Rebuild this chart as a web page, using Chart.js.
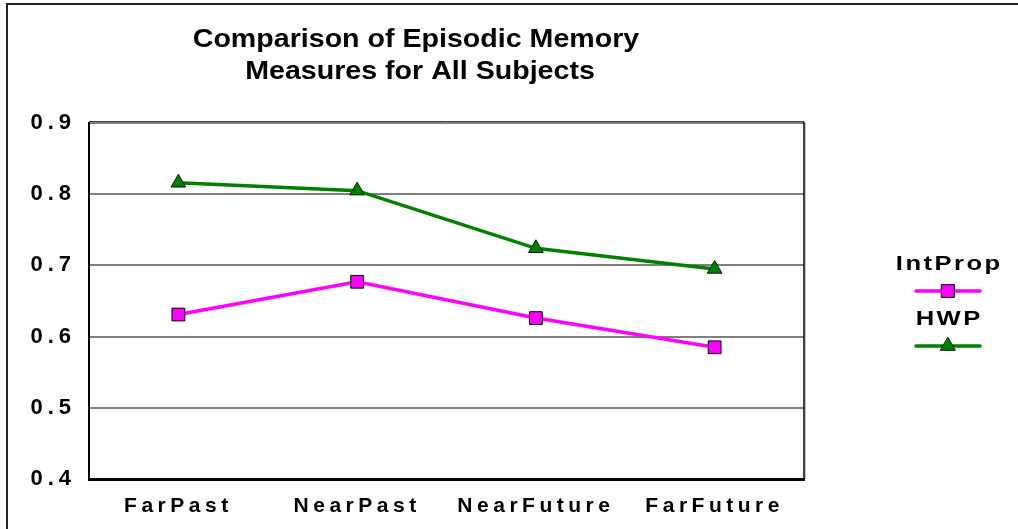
<!DOCTYPE html>
<html>
<head>
<meta charset="utf-8">
<script src="https://cdn.jsdelivr.net/npm/chart.js@4.4.1/dist/chart.umd.min.js"></script>
<style>
  html, body { margin: 0; padding: 0; background: #ffffff; }
  #wrap { position: relative; width: 1018px; height: 529px; }
</style>
</head>
<body>
<div id="wrap"><canvas id="c" width="1018" height="529"></canvas></div>
<script>
// ---- data ----
const titleLines = ['Comparison of Episodic Memory', 'Measures for All Subjects'];
const categories = ['FarPast', 'NearPast', 'NearFuture', 'FarFuture'];
const intPropValues = [0.631, 0.677, 0.626, 0.585];
const hwpValues = [0.816, 0.805, 0.724, 0.695];
const yTickLabels = ['0.4', '0.5', '0.6', '0.7', '0.8', '0.9'];
const seriesNames = ['IntProp', 'HWP'];

// letter-spaced tick labels
function wrapLabels(proto) {
  const orig = proto.drawLabels;
  proto.drawLabels = function (area) {
    const ctx = this.ctx;
    ctx.save();
    const ls = this.options.ticks.spacingPx || 0;
    ctx.letterSpacing = ls + 'px';
    orig.call(this, area);
    ctx.restore();
  };
}
wrapLabels(Chart.CategoryScale.prototype);
wrapLabels(Chart.LinearScale.prototype);

function spacedText(ctx, text, cx, baseline, font, ls, sx) {
  ctx.save();
  ctx.font = font;
  ctx.letterSpacing = ls + 'px';
  ctx.textAlign = 'left';
  ctx.textBaseline = 'alphabetic';
  const w = (ctx.measureText(text).width - ls) * sx;
  ctx.translate(cx - w / 2, baseline);
  ctx.scale(sx, 1);
  ctx.fillStyle = '#000';
  ctx.fillText(text, 0, 0);
  ctx.restore();
}

const decor = {
  id: 'decor',
  beforeDraw(chart) {
    const ctx = chart.ctx;
    ctx.save();
    ctx.fillStyle = '#fff';
    ctx.fillRect(0, 0, chart.width, chart.height);
    // outer frame
    ctx.strokeStyle = '#222';
    ctx.lineWidth = 2;
    ctx.beginPath();
    ctx.moveTo(1018, 4);
    ctx.lineTo(7, 4);
    ctx.lineTo(7, 529);
    ctx.stroke();
    ctx.restore();
  },
  afterDraw(chart) {
    const ctx = chart.ctx;
    const a = chart.chartArea;
    ctx.save();
    // right border of plot
    ctx.strokeStyle = '#c0c0c0';
    ctx.lineWidth = 1;
    ctx.beginPath();
    ctx.moveTo(a.right + 1.5, a.top);
    ctx.lineTo(a.right + 1.5, a.bottom);
    ctx.stroke();
    ctx.strokeStyle = '#000';
    ctx.lineWidth = 1.5;
    ctx.beginPath();
    ctx.moveTo(a.right, a.top - 1);
    ctx.lineTo(a.right, a.bottom);
    ctx.stroke();
    // top dark edge
    ctx.strokeStyle = '#404040';
    ctx.lineWidth = 1;
    ctx.beginPath();
    ctx.moveTo(a.left, a.top - 1.5);
    ctx.lineTo(a.right, a.top - 1.5);
    ctx.stroke();
    ctx.restore();

    // title
    spacedText(ctx, titleLines[0], 416, 47, 'bold 26px "Liberation Sans", Arial, sans-serif', 0, 1.1);
    spacedText(ctx, titleLines[1], 420, 79, 'bold 26px "Liberation Sans", Arial, sans-serif', 0, 1.1);

    // legend: name above a line sample with marker
    const lx = 948;
    const rows = [{ text: 270, line: 291 }, { text: 325, line: 346 }];
    chart.data.datasets.forEach((ds, i) => {
      const r = rows[i];
      spacedText(ctx, ds.label, lx, r.text, 'bold 21px "Liberation Sans", Arial, sans-serif', 2, 1.22);
      ctx.save();
      ctx.strokeStyle = ds.borderColor;
      ctx.lineWidth = ds.borderWidth;
      ctx.lineCap = 'round';
      ctx.beginPath();
      ctx.moveTo(lx - 32, r.line);
      ctx.lineTo(lx + 32, r.line);
      ctx.stroke();
      ctx.fillStyle = ds.pointBackgroundColor;
      ctx.strokeStyle = ds.pointBorderColor;
      ctx.lineWidth = ds.pointBorderWidth;
      Chart.helpers.drawPoint(ctx, {
        pointStyle: ds.pointStyle,
        rotation: 0,
        radius: ds.pointRadius,
        borderWidth: ds.pointBorderWidth
      }, lx, r.line);
      ctx.restore();
    });
  }
};

new Chart(document.getElementById('c'), {
  type: 'line',
  data: {
    labels: categories,
    datasets: [
      {
        label: seriesNames[0],
        data: intPropValues,
        borderColor: '#ff00ff',
        borderWidth: 3.5,
        pointStyle: 'rect',
        pointRadius: 9,
        pointBackgroundColor: '#ff00ff',
        pointBorderColor: '#000000',
        pointBorderWidth: 1,
        tension: 0
      },
      {
        label: seriesNames[1],
        data: hwpValues,
        borderColor: '#008000',
        borderWidth: 3.5,
        pointStyle: 'triangle',
        pointRadius: 8.5,
        pointBackgroundColor: '#008000',
        pointBorderColor: '#002000',
        pointBorderWidth: 1,
        tension: 0
      }
    ]
  },
  options: {
    responsive: false,
    animation: false,
    devicePixelRatio: 1,
    layout: { padding: { left: 0, top: 123, right: 214, bottom: 0 } },
    plugins: {
      legend: { display: false },
      title: { display: false },
      tooltip: { enabled: false }
    },
    scales: {
      x: {
        type: 'category',
        offset: true,
        grid: { display: false, drawTicks: false },
        border: { display: true, color: '#000', width: 3 },
        ticks: {
          color: '#000',
          font: { family: '"Liberation Sans", Arial, sans-serif', size: 21, weight: 'bold' },
          padding: 15,
          maxRotation: 0,
          autoSkip: false,
          spacingPx: 4.5
        },
        afterFit(scale) { scale.height = 50; }
      },
      y: {
        min: 0.4,
        max: 0.9,
        ticks: {
          stepSize: 0.1,
          color: '#000',
          font: { family: '"Liberation Sans", Arial, sans-serif', size: 22, weight: 'bold' },
          padding: 13,
          spacingPx: 5,
          callback: (v, i) => yTickLabels[i]
        },
        grid: {
          drawTicks: false,
          lineWidth: 2,
          color: (c) => (c.index === 0 ? 'rgba(0,0,0,0)' : '#808080')
        },
        border: { display: true, color: '#000', width: 2 },
        afterFit(scale) { scale.width = 89; }
      }
    }
  },
  plugins: [decor]
});
</script>
</body>
</html>
